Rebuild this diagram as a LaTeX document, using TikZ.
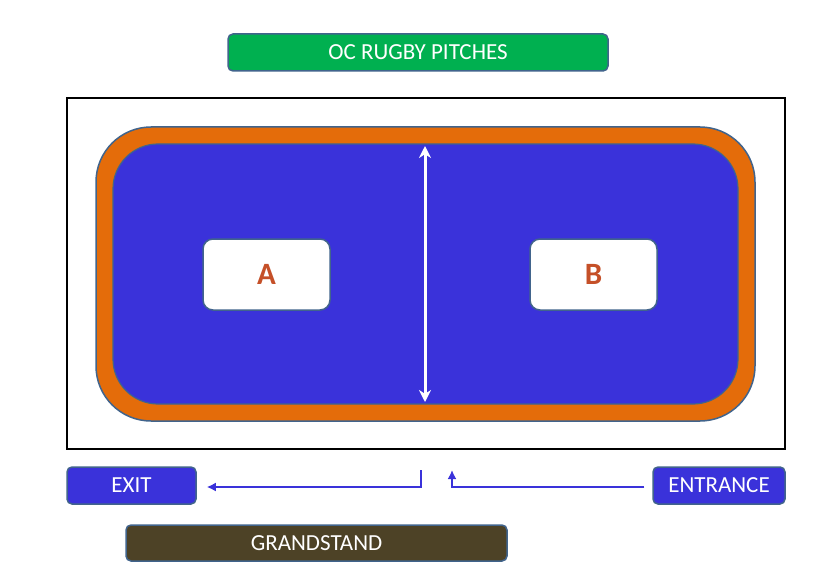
\documentclass[tikz,border=0pt]{standalone}
\usepackage{fontspec}
\setmainfont{Carlito}
\usepackage{tikz}
\usetikzlibrary{arrows.meta}
\definecolor{pitchblue}{RGB}{58,50,218}
\definecolor{trackorange}{RGB}{228,108,10}
\definecolor{edgeblue}{RGB}{65,100,140}
\definecolor{signgreen}{RGB}{0,176,80}
\definecolor{standbrown}{RGB}{77,66,38}
\definecolor{letterred}{RGB}{197,80,40}

\begin{document}
\begin{tikzpicture}[x=1pt, y=-1pt,
        sign/.style={draw=edgeblue, line width=1.5pt, rounded corners=5pt, text=white, font=\fontsize{23}{26}\selectfont, inner sep=0pt},
        pitchlabel/.style={draw=edgeblue, line width=1.5pt, fill=white, rounded corners=10pt, minimum width=127pt, minimum height=71pt, text=letterred, font=\bfseries\fontsize{31}{34}\selectfont},
        walk/.style={pitchblue, line width=2.8pt, -{Latex[length=9pt, width=9pt]}}]
            \useasboundingbox (0,0) rectangle (817,583);

            % fence and pitches
            \draw[black, line width=2pt] (67,98) rectangle (785,449);
            \draw[edgeblue, line width=1.5pt, fill=trackorange, rounded corners=55pt] (96,127) rectangle (755,421);
            \draw[edgeblue, line width=1.2pt, fill=pitchblue, rounded corners=45pt] (113,144) rectangle (738,404);

            \node[pitchlabel] (pitchA) at (266.5,274.5) {A};
            \node[pitchlabel] (pitchB) at (593.5,274.5) {B};
            \coordinate (halftop) at (425,146);
            \coordinate (halfbot) at (425,402);
            \draw[white, line width=3pt, {Stealth[length=12pt, width=12pt]}-{Stealth[length=12pt, width=12pt]}] (halftop) -- (halfbot);

            % signs
            \node[sign, fill=signgreen, minimum width=380pt, minimum height=37pt] (pitches) at (418,52.5) {OC RUGBY PITCHES};
            \node[sign, fill=pitchblue, minimum width=129pt, minimum height=37pt] (exit) at (131.5,485.5) {EXIT};
            \node[sign, fill=pitchblue, minimum width=132pt, minimum height=37pt] (entrance) at (719,485.5) {ENTRANCE};
            \node[sign, fill=standbrown, minimum width=381pt, minimum height=36pt] (stand) at (316.5,543) {GRANDSTAND};

            % way in and way out
            \coordinate (outgate) at (421,470);
            \coordinate (ingate) at (452,470);
            \draw[walk] (outgate) |- ([xshift=10pt, yshift=-1.5pt]exit.east);
            \draw[walk] ([xshift=-8pt, yshift=-1.5pt]entrance.west) -| (ingate);
        \end{tikzpicture}
\end{document}
